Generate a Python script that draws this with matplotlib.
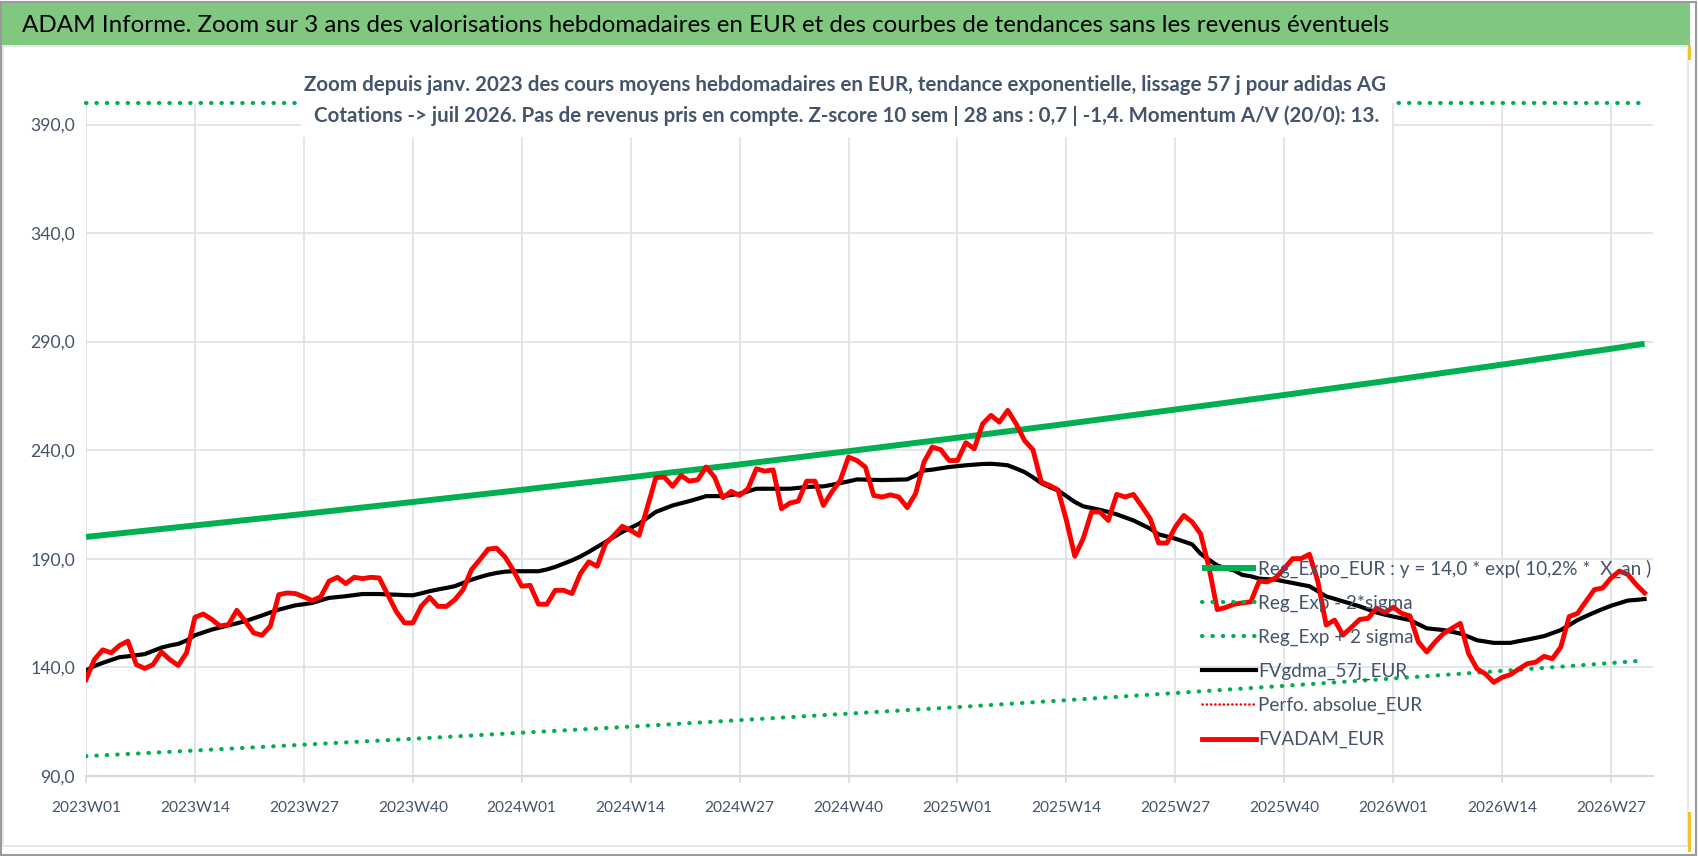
import numpy as np
import matplotlib
matplotlib.use("Agg")
import matplotlib.pyplot as plt
from matplotlib.patches import Rectangle
from matplotlib.ticker import FuncFormatter

plt.rcParams['font.family'] = ['Lato', 'DejaVu Sans']

# ---------------- data ----------------
weeks = ([f"{y}W{w:02d}" for y in (2023, 2024, 2025) for w in range(1, 53)]
         + [f"2026W{w:02d}" for w in range(1, 32)])

fvadam = [134.3, 143.5, 148.0, 146.6, 150.0, 152.0, 141.2, 139.4, 141.2, 147.0,
          143.5, 140.8, 146.6, 163.0, 164.5, 162.0, 159.0, 159.6, 166.2, 161.2,
          155.8, 154.7, 158.9, 173.4, 174.2, 173.9, 172.4, 170.7, 172.4, 179.6,
          181.4, 178.5, 181.4, 180.8, 181.4, 181.1, 173.4, 165.8, 160.4, 160.4,
          168.0, 172.2, 168.0, 168.0, 171.0, 175.7, 184.9, 189.5, 194.4, 194.8,
          190.8, 184.6, 177.3, 177.7, 169.0, 169.0, 175.4, 175.4, 173.9, 183.1,
          188.5, 186.5, 196.9, 200.7, 204.9, 203.0, 200.7, 213.8, 227.3, 227.6,
          223.3, 228.3, 225.7, 226.3, 232.2, 227.6, 218.1, 221.0, 219.1, 222.2,
          231.4, 230.3, 230.9, 213.0, 215.6, 216.5, 225.7, 225.7, 214.5, 220.7,
          226.0, 236.8, 235.2, 232.2, 219.1, 218.4, 219.4, 218.4, 213.5, 219.9,
          234.5, 241.4, 240.2, 235.2, 235.2, 243.4, 240.6, 252.1, 256.0, 252.9,
          258.3, 252.1, 244.4, 240.2, 225.3, 223.7, 221.7, 207.6, 191.1, 199.2,
          211.5, 211.5, 207.6, 219.6, 218.4, 219.6, 214.1, 208.4, 197.2, 197.2,
          204.6, 209.9, 206.9, 201.5, 186.2, 166.5, 167.5, 169.0, 169.6, 170.1,
          179.6, 179.3, 181.2, 185.5, 190.0, 190.0, 192.0, 179.6, 159.4, 161.7,
          154.8, 158.3, 162.0, 162.5, 167.2, 165.2, 167.6, 164.8, 163.6, 151.6,
          147.0, 151.6, 155.5, 157.9, 160.2, 146.2, 139.2, 136.9, 133.0, 135.3,
          136.6, 139.2, 141.6, 142.3, 145.0, 143.9, 149.3, 163.3, 164.8, 170.3,
          175.7, 176.5, 181.1, 184.3, 182.7, 178.0, 174.2]

fvgdma = [138.5, 140.5, 142.0, 143.3, 144.6, 145.0, 145.5, 146.0, 147.5, 149.0,
          150.0, 150.7, 152.3, 154.7, 156.0, 157.3, 158.3, 159.3, 160.2, 161.2,
          162.5, 163.8, 165.2, 166.5, 167.5, 168.5, 169.0, 169.6, 170.8, 171.9,
          172.3, 172.7, 173.2, 173.7, 173.7, 173.7, 173.5, 173.4, 173.2, 173.1,
          174.0, 175.0, 175.8, 176.5, 177.3, 178.8, 180.3, 181.5, 182.6, 183.4,
          184.0, 184.2, 184.2, 184.2, 184.2, 185.0, 186.2, 187.7, 189.2, 191.0,
          193.1, 195.4, 197.7, 200.0, 202.3, 204.2, 206.1, 208.8, 211.5, 213.0,
          214.5, 215.5, 216.5, 217.6, 218.8, 218.8, 218.8, 219.3, 219.9, 221.0,
          222.2, 222.2, 222.2, 222.2, 222.2, 222.6, 223.0, 223.2, 223.3, 224.0,
          224.8, 225.6, 226.5, 226.4, 226.3, 226.2, 226.3, 226.4, 226.5, 228.3,
          230.6, 231.0, 231.6, 232.2, 232.6, 233.0, 233.3, 233.6, 233.7, 233.4,
          233.0, 231.5, 229.9, 227.5, 224.8, 223.0, 221.4, 218.8, 216.1, 214.1,
          213.3, 212.5, 211.5, 210.4, 209.0, 207.6, 205.7, 203.8, 201.2, 200.2,
          199.2, 197.9, 196.6, 192.3, 189.5, 186.9, 185.5, 184.6, 182.5, 181.9,
          180.8, 180.5, 180.3, 179.5, 178.8, 178.0, 177.3, 175.0, 172.6, 171.5,
          170.3, 169.2, 168.0, 166.6, 165.2, 164.2, 163.3, 162.5, 161.7, 159.8,
          157.9, 157.5, 157.1, 156.3, 155.5, 154.0, 152.4, 151.8, 151.2, 151.2,
          151.2, 152.0, 152.7, 153.5, 154.3, 155.7, 157.1, 159.4, 161.7, 163.5,
          165.2, 166.8, 168.3, 169.5, 170.7, 171.0, 171.4]

# regression trend and bands read at the labelled weeks (and the last week)
trend_idx = [0, 13, 26, 39, 52, 65, 78, 91, 104, 117, 130, 143, 156, 169, 182, 186]
reg_expo = [200.0, 205.3, 210.6, 216.1, 221.7, 227.5, 233.4, 239.5, 245.7, 252.1,
            258.7, 265.4, 272.3, 279.4, 286.7, 289.0]
reg_minus = [99.0, 101.6, 104.3, 107.0, 109.8, 112.6, 115.6, 118.6, 121.6, 124.8,
             128.1, 131.4, 134.8, 138.3, 141.9, 143.1]
reg_plus = [404.0, 414.7, 425.5, 436.6, 447.9, 459.6, 471.5, 483.8, 496.4, 509.3,
            522.6, 536.2, 550.1, 564.4, 579.2, 583.8]
perfo_absolue = []

yticks = [90, 140, 190, 240, 290, 340, 390]
y_min, y_max = 90, 400

title = ("ADAM Informe. Zoom sur 3 ans des valorisations hebdomadaires en EUR et des "
         "courbes de tendances sans les revenus éventuels")
sub1 = ("Zoom depuis janv. 2023 des cours moyens hebdomadaires en EUR, tendance "
        "exponentielle, lissage 57 j pour adidas AG")
sub2 = ("Cotations -> juil 2026. Pas de revenus pris en compte. Z-score 10 sem | "
        "28 ans : 0,7 | -1,4. Momentum A/V (20/0): 13.")
labels = ["Reg_Expo_EUR : y = 14,0 * exp( 10,2% *  X_an )", "Reg_Exp - 2*sigma",
          "Reg_Exp + 2 sigma", "FVgdma_57j_EUR", "Perfo. absolue_EUR", "FVADAM_EUR"]

# ---------------- figure ----------------
W, H = 1698, 856
fig = plt.figure(figsize=(W / 100, H / 100), dpi=100)
fig.patch.set_facecolor('white')
renderer = fig.canvas.get_renderer()

def fx(px):
    return px / W

def fy(py):
    return 1 - py / H

def fit_size(s, target_px, weight='normal', base=20.0):
    t = fig.text(0, 0, s, fontsize=base, fontweight=weight)
    w = t.get_window_extent(renderer).width
    h = t.get_window_extent(renderer).height
    t.remove()
    return base * target_px / w, h * target_px / w

TXT = '#44546A'

# outer frame & chart-area frame
fig.patches.append(Rectangle((0.0006, 0.001), 0.9985, 0.997, transform=fig.transFigure,
                             fill=False, edgecolor='#9A9A9A', lw=1.5, zorder=0))
fig.patches.append(Rectangle((fx(3), fy(846)), fx(1685), (846 - 46) / H, transform=fig.transFigure,
                             fill=False, edgecolor='#E0E3E8', lw=1.2, zorder=0))
# title bar
fig.patches.append(Rectangle((fx(2), fy(45)), fx(1688), 42 / H, transform=fig.transFigure,
                             facecolor='#80C87F', edgecolor='none', zorder=1))
fs_title, _ = fit_size(title, 1370)
fig.text(fx(22), fy(25), title, fontsize=fs_title, color='black', ha='left', va='center', zorder=2)

ax = fig.add_axes([fx(86), fy(775.7), fx(1653 - 86), (775.7 - 102.8) / H])
x = np.arange(len(weeks))
xt = np.array(trend_idx)
GREEN = '#00B050'
dot = dict(linestyle=(0, (0.1, 2.4)), dash_capstyle='round', lw=3.0)

ax.plot(xt, reg_expo, color=GREEN, lw=4.3, solid_capstyle='butt', zorder=3, label=labels[0])
ax.plot(xt, reg_minus, color=GREEN, zorder=3, label=labels[1], **dot)
ax.plot(xt, np.minimum(reg_plus, y_max), color=GREEN, zorder=3, clip_on=False,
        label=labels[2], **dot)
ax.plot(x, fvgdma, color='black', lw=3.0, zorder=4, label=labels[3])
ax.plot(perfo_absolue, perfo_absolue, color='#FF0000', label=labels[4],
        linestyle=(0, (0.1, 1.6)), dash_capstyle='round', lw=1.8)
ax.plot(x, fvadam, color='#FF0000', lw=3.5, zorder=5, label=labels[5])

fs_tick, _ = fit_size("2023W01", 70)
fs_ytick, _ = fit_size("390,0", 45)

ax.set_xlim(0, 187)
ax.set_ylim(y_min, y_max)
ax.set_yticks(yticks)
ax.yaxis.set_major_formatter(FuncFormatter(lambda v, p: f"{v:.1f}".replace('.', ',')))
ax.set_xticks(x[::13])
ax.set_xticklabels([weeks[i] for i in x[::13]])
ax.grid(True, color='#DDE1E8', lw=1.2, zorder=0)
for s in ('top', 'right', 'left'):
    ax.spines[s].set_visible(False)
ax.spines['bottom'].set_color('#D5D9E0')
ax.spines['bottom'].set_linewidth(1.5)
ax.tick_params(axis='y', length=0, pad=8, labelsize=fs_ytick, labelcolor=TXT)
ax.tick_params(axis='x', length=5, width=1.2, color='#D5D9E0', pad=13,
               labelsize=fs_tick, labelcolor=TXT)

fs_leg, h_leg = fit_size(labels[0], 392)
fs_leg_px = fs_leg * 100 / 72
lspace = max((35.6 - h_leg) / fs_leg_px, 0.1)
leg = fig.legend(loc='upper left', bbox_to_anchor=(fx(1202), fy(569 - h_leg / 2)), frameon=False,
                 fontsize=fs_leg, labelcolor=TXT, handlelength=54 / fs_leg_px,
                 handletextpad=0.1, labelspacing=lspace, borderpad=0, borderaxespad=0)
leg.set_zorder(6)

# subtitle (white box over the plot)
fig.patches.append(Rectangle((fx(301), fy(137)), fx(1091), 77 / H, transform=fig.transFigure,
                             facecolor='white', edgecolor='none', zorder=7))
fs_sub, _ = fit_size(sub1, 1085, weight='bold')
fig.text(fx(845), fy(85), sub1, fontsize=fs_sub, fontweight='bold', color=TXT,
         ha='center', va='center', zorder=8)
fig.text(fx(847), fy(116), sub2, fontsize=fs_sub, fontweight='bold', color=TXT,
         ha='center', va='center', zorder=8)

# small selection marks
fig.patches.append(Rectangle((fx(1688), fy(60)), fx(2.5), 15 / H, transform=fig.transFigure,
                             facecolor='#F2C12E', edgecolor='none', zorder=9))
fig.patches.append(Rectangle((fx(1688), fy(852)), fx(2.5), 40 / H, transform=fig.transFigure,
                             facecolor='#F2C12E', edgecolor='none', zorder=9))

fig.savefig('out.png', dpi=100, facecolor='white')
